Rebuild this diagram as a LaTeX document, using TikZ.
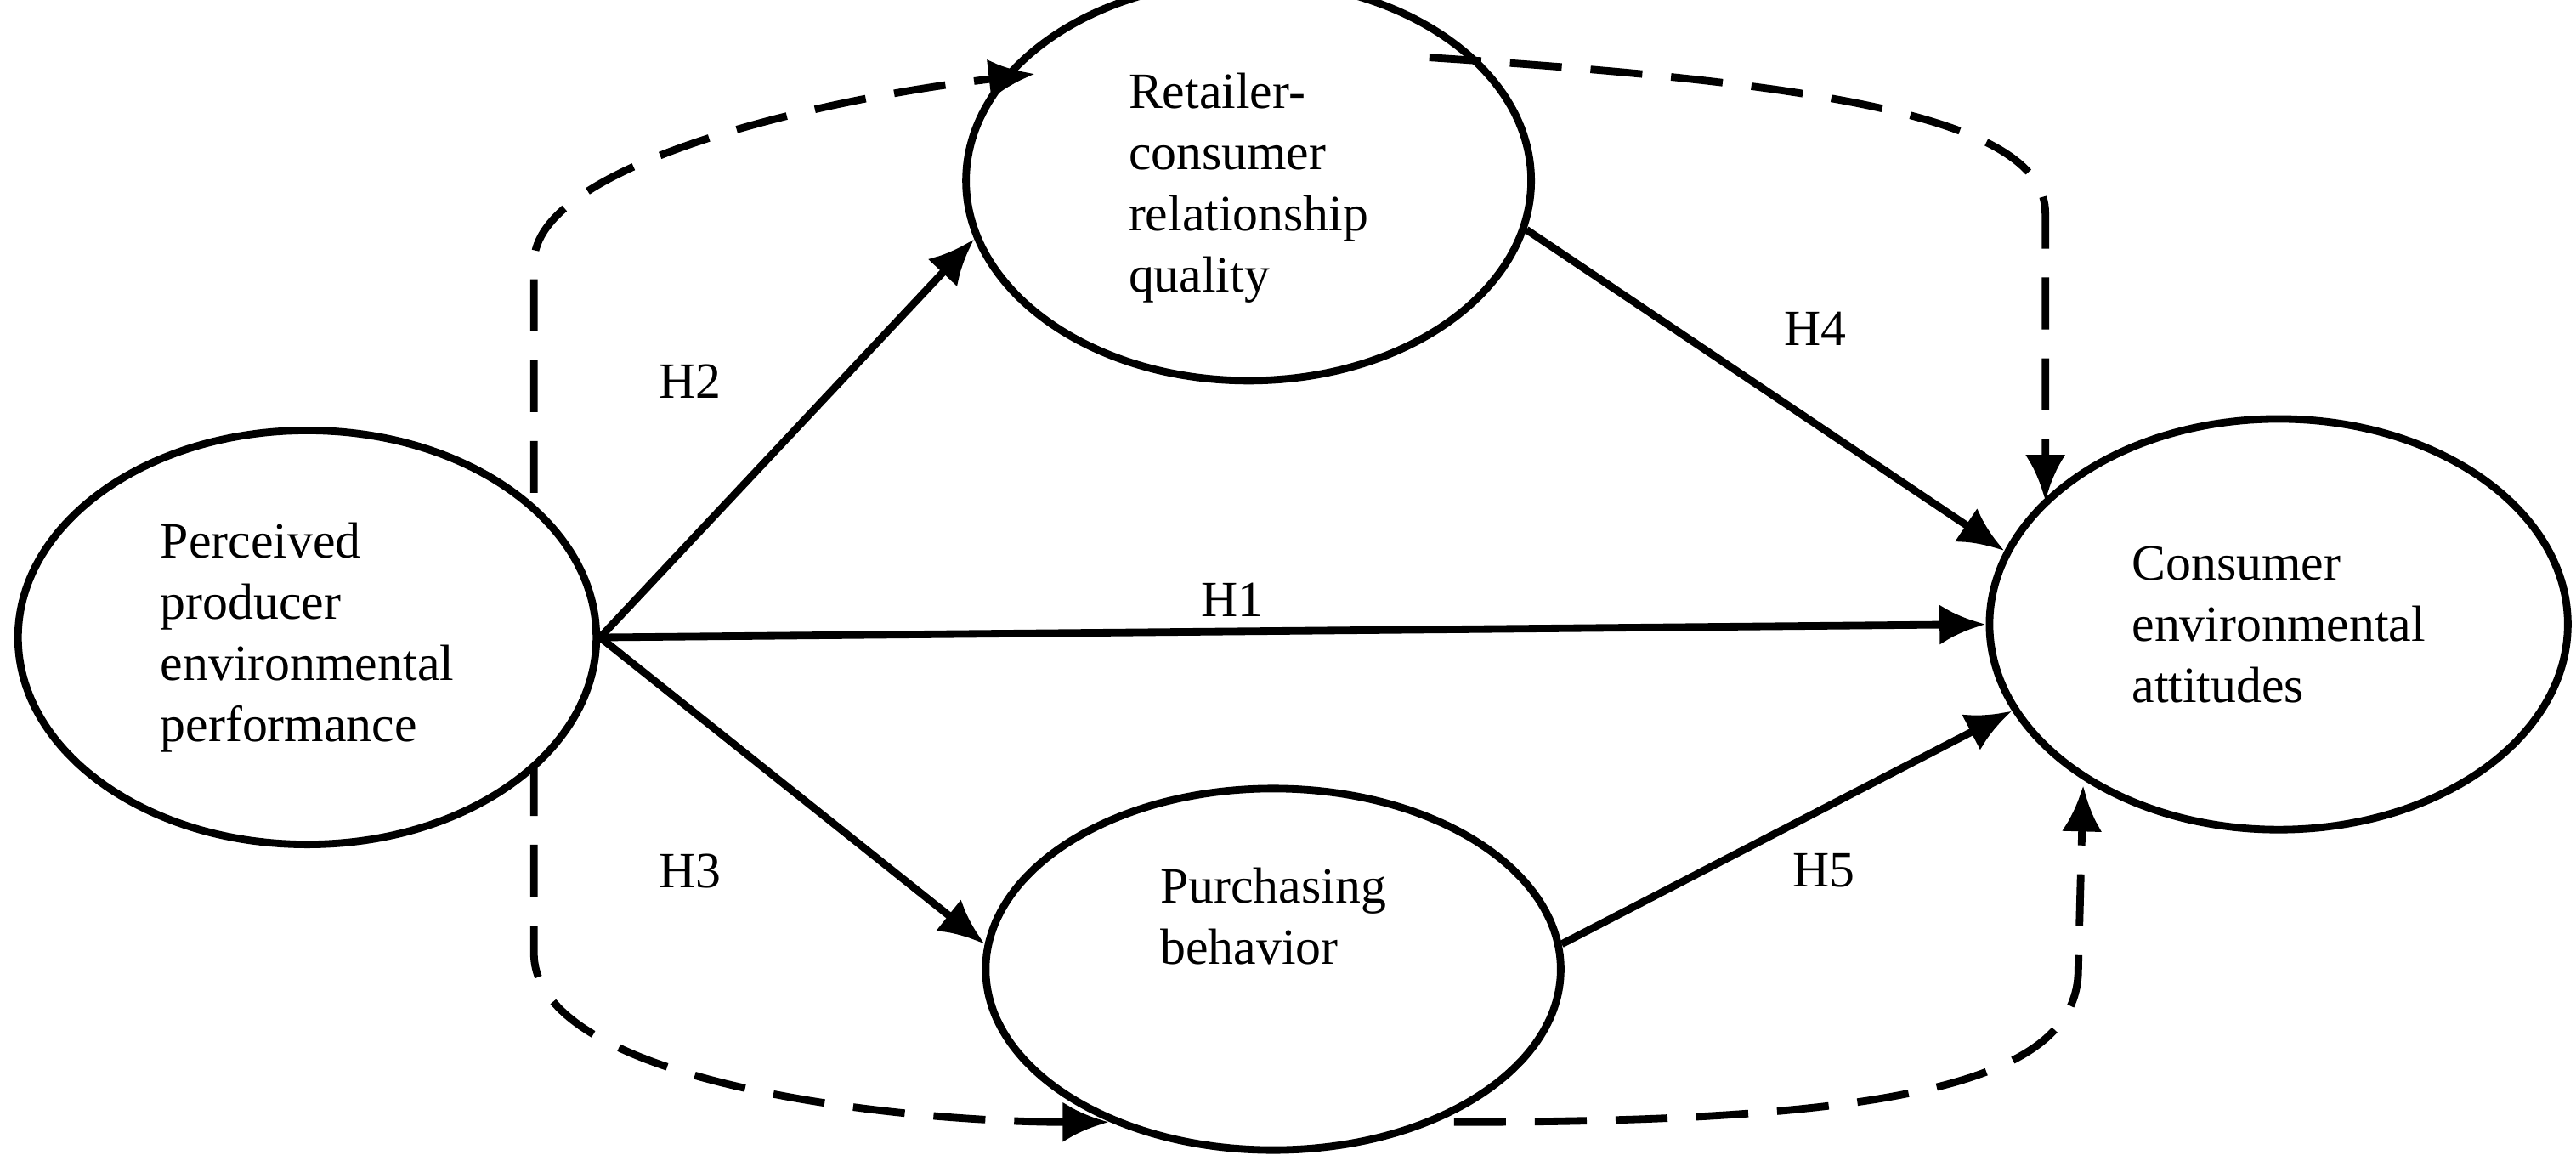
\documentclass[tikz,border=0pt]{standalone}
\usepackage{fontspec}
\setmainfont{Liberation Serif}
\usetikzlibrary{arrows.meta,shapes.geometric}
\tikzset{
  construct/.style={ellipse,draw,line width=1.3pt,align=left,font=\fontsize{8.8}{10.6}\selectfont},
  path/.style={line width=1.3pt,-{Latex[length=8pt,width=7pt]}},
  med/.style={path,dash pattern=on 9pt off 5pt},
  hyp/.style={font=\fontsize{8.8}{10.6}\selectfont}
}
\begin{document}
\begin{tikzpicture}
        \useasboundingbox (0,0) rectangle (15.68,-7.13);
        \node[construct,minimum width=3.52cm,minimum height=2.52cm] (ppep) at (1.87,-3.88) {Perceived\\producer\\environmental\\performance};
        \node[construct,minimum width=3.44cm,minimum height=2.10cm] (rcrq) at (7.60,-1.10) {\\[-2pt]Retailer-\\consumer\\relationship\\quality};
        \node[construct,minimum width=3.52cm,minimum height=2.50cm] (cea) at (13.87,-3.80) {Consumer\\environmental\\attitudes};
        \node[construct,minimum width=3.50cm,minimum height=2.20cm] (pb) at (7.75,-5.90) {Purchasing\\behavior\\[8pt]};

        \draw[path] (ppep.east) -- (rcrq.192); % H2
        \draw[path] (ppep.east) -- (cea.west); % H1
        \draw[path] (ppep.east) -- (pb.175); % H3
        \draw[path] (rcrq.-10) -- (cea.165); % H4
        \draw[path] (pb.5) -- (cea.198); % H5

        \node[hyp] (h2) at (4.20,-2.32) {H2};
        \node[hyp] (h1) at (7.50,-3.65) {H1};
        \node[hyp] (h3) at (4.20,-5.30) {H3};
        \node[hyp] (h4) at (11.05,-2.00) {H4};
        \node[hyp] (h5) at (11.10,-5.30) {H5};

        % mediation paths
        \coordinate (a1) at (3.25,-3.00);
        \coordinate (a2) at (6.30,-0.45);
        \coordinate (b1) at (8.70,-0.35);
        \coordinate (b2) at (12.45,-3.05);
        \coordinate (c1) at (3.25,-4.65);
        \coordinate (c2) at (6.75,-6.83);
        \coordinate (d1) at (8.85,-6.83);
        \coordinate (d2) at (12.68,-4.78);
        \draw[med] (a1) -- (3.25,-1.60) .. controls (3.25,-1.00) and (5.00,-0.60) .. (a2);
        \draw[med] (b1) .. controls (11.00,-0.50) and (12.45,-0.70) .. (12.45,-1.30) -- (b2);
        \draw[med] (c1) -- (3.25,-5.80) .. controls (3.25,-6.60) and (5.50,-6.83) .. (c2);
        \draw[med] (d1) .. controls (11.50,-6.83) and (12.65,-6.60) .. (12.65,-5.90) -- (d2);
    \end{tikzpicture}
\end{document}
